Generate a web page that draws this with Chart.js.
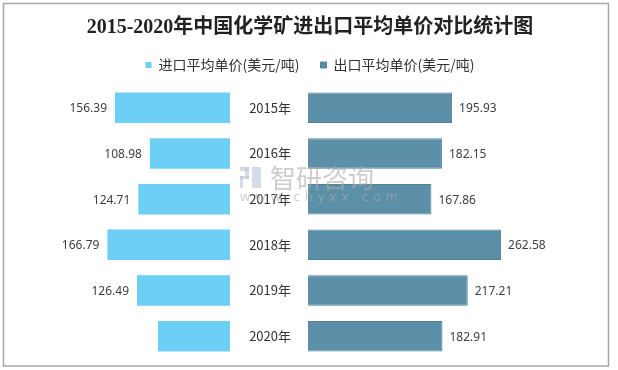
<!DOCTYPE html>
<html>
<head>
<meta charset="utf-8">
<script src="https://cdn.jsdelivr.net/npm/chart.js@4/dist/chart.umd.min.js"></script>
<style>
  html, body { margin: 0; padding: 0; background: #fff; }
  #wrap { width: 618px; height: 370px; }
</style>
</head>
<body>
<div id="wrap"><canvas id="chart"></canvas></div>
<script>
const years = ["2015年", "2016年", "2017年", "2018年", "2019年", "2020年"];
const importPrice = [156.39, 108.98, 124.71, 166.79, 126.49, 98];
const exportPrice = [195.93, 182.15, 167.86, 262.58, 217.21, 182.91];
// the 2020 import bar carries no value label in the original
const unlabeledImport = ["2020年"];

const importColor = "#6dcff6";
const exportColor = "#5b90a8";

const frame = {
    id: "frame",
    beforeDraw(chart) {
        const ctx = chart.ctx;
        ctx.save();
        ctx.fillStyle = "#fff";
        ctx.fillRect(0, 0, chart.width, chart.height);
        ctx.strokeStyle = "#a6a6a6";
        ctx.lineWidth = 1.5;
        ctx.strokeRect(3.5, 3.5, 605, 362.5);
        ctx.restore();
    }
};

const valueLabels = {
    id: "valueLabels",
    afterDatasetsDraw(chart) {
        const ctx = chart.ctx;
        ctx.save();
        ctx.font = "12px 'Noto Sans', sans-serif";
        ctx.fillStyle = "#404040";
        ctx.textBaseline = "middle";
        chart.getDatasetMeta(0).data.forEach((bar, i) => {
            if (unlabeledImport.includes(years[i])) return;
            ctx.textAlign = "right";
            ctx.fillText(importPrice[i].toFixed(2), bar.x - 8, bar.y + 1);
        });
        chart.getDatasetMeta(1).data.forEach((bar, i) => {
            ctx.textAlign = "left";
            ctx.fillText(exportPrice[i].toFixed(2), bar.x + 7, bar.y + 1);
        });
        ctx.restore();
    }
};

const watermark = {
    id: "watermark",
    afterDatasetsDraw(chart) {
        const ctx = chart.ctx;
        ctx.save();
        ctx.fillStyle = "rgba(185, 195, 215, 0.6)";
        ctx.fillRect(240, 167, 9, 4);
        ctx.fillRect(245, 167, 4, 12);
        ctx.fillRect(240, 176, 9, 3);
        ctx.fillRect(240, 176, 3, 12);
        ctx.fillRect(252, 167, 9, 21);
        ctx.fillStyle = "rgba(170, 170, 170, 0.6)";
        ctx.font = "26px 'Noto Sans CJK SC', sans-serif";
        ctx.textBaseline = "middle";
        ctx.textAlign = "left";
        ctx.fillText("智研咨询", 270, 178);
        ctx.font = "13px 'Noto Sans', sans-serif";
        ctx.letterSpacing = "5px";
        ctx.fillText("www.chyxx.com", 240, 197);
        ctx.restore();
    }
};

new Chart(document.getElementById("chart"), {
    type: "bar",
    data: {
        labels: years,
        datasets: [{
            label: "进口平均单价(美元/吨)",
            data: importPrice,
            backgroundColor: importColor,
            xAxisID: "xL",
            grouped: false,
            categoryPercentage: 1,
            barPercentage: 0.667
        }, {
            label: "出口平均单价(美元/吨)",
            data: exportPrice,
            backgroundColor: exportColor,
            borderColor: "#4f8199",
            borderWidth: 1,
            xAxisID: "xR",
            grouped: false,
            categoryPercentage: 1,
            barPercentage: 0.667
        }]
    },
    options: {
        indexAxis: "y",
        responsive: true,
        maintainAspectRatio: false,
        animation: false,
        layout: { padding: { left: 20, right: 18, bottom: 11 } },
        plugins: {
            title: {
                display: true,
                text: "2015-2020年中国化学矿进出口平均单价对比统计图",
                color: "#222",
                font: { family: "'Liberation Serif', 'Noto Sans CJK SC', serif", size: 20, weight: "bold" },
                padding: { top: 16, bottom: -3 }
            },
            legend: {
                display: true,
                labels: {
                    boxWidth: 6,
                    boxHeight: 6,
                    padding: 21,
                    color: "#333",
                    font: { family: "'Noto Sans CJK SC', sans-serif", size: 14 }
                }
            },
            tooltip: { enabled: false }
        },
        scales: {
            xL: {
                type: "linear", position: "bottom", stack: "bars", stackWeight: 210,
                reverse: true, min: 0, max: 285.6, display: false
            },
            xGap: {
                type: "linear", position: "bottom", stack: "bars", stackWeight: 78,
                min: 0, max: 78, display: false
            },
            xR: {
                type: "linear", position: "bottom", stack: "bars", stackWeight: 292,
                min: 0, max: 397.1, display: false
            },
            // empty axis only used as a little gap under the legend
            spacer: {
                type: "linear", position: "top", display: true,
                ticks: { display: false },
                grid: { display: false, drawTicks: false },
                border: { display: false },
                afterFit(scale) { scale.height = 3; }
            },
            y: {
                type: "category",
                position: { xGap: 61 },
                grid: { display: false, drawTicks: false },
                border: { display: false },
                ticks: {
                    padding: 0,
                    color: "#333",
                    font: { family: "'Noto Sans CJK SC', sans-serif", size: 13 }
                }
            }
        }
    },
    plugins: [frame, valueLabels, watermark]
});
</script>
</body>
</html>
